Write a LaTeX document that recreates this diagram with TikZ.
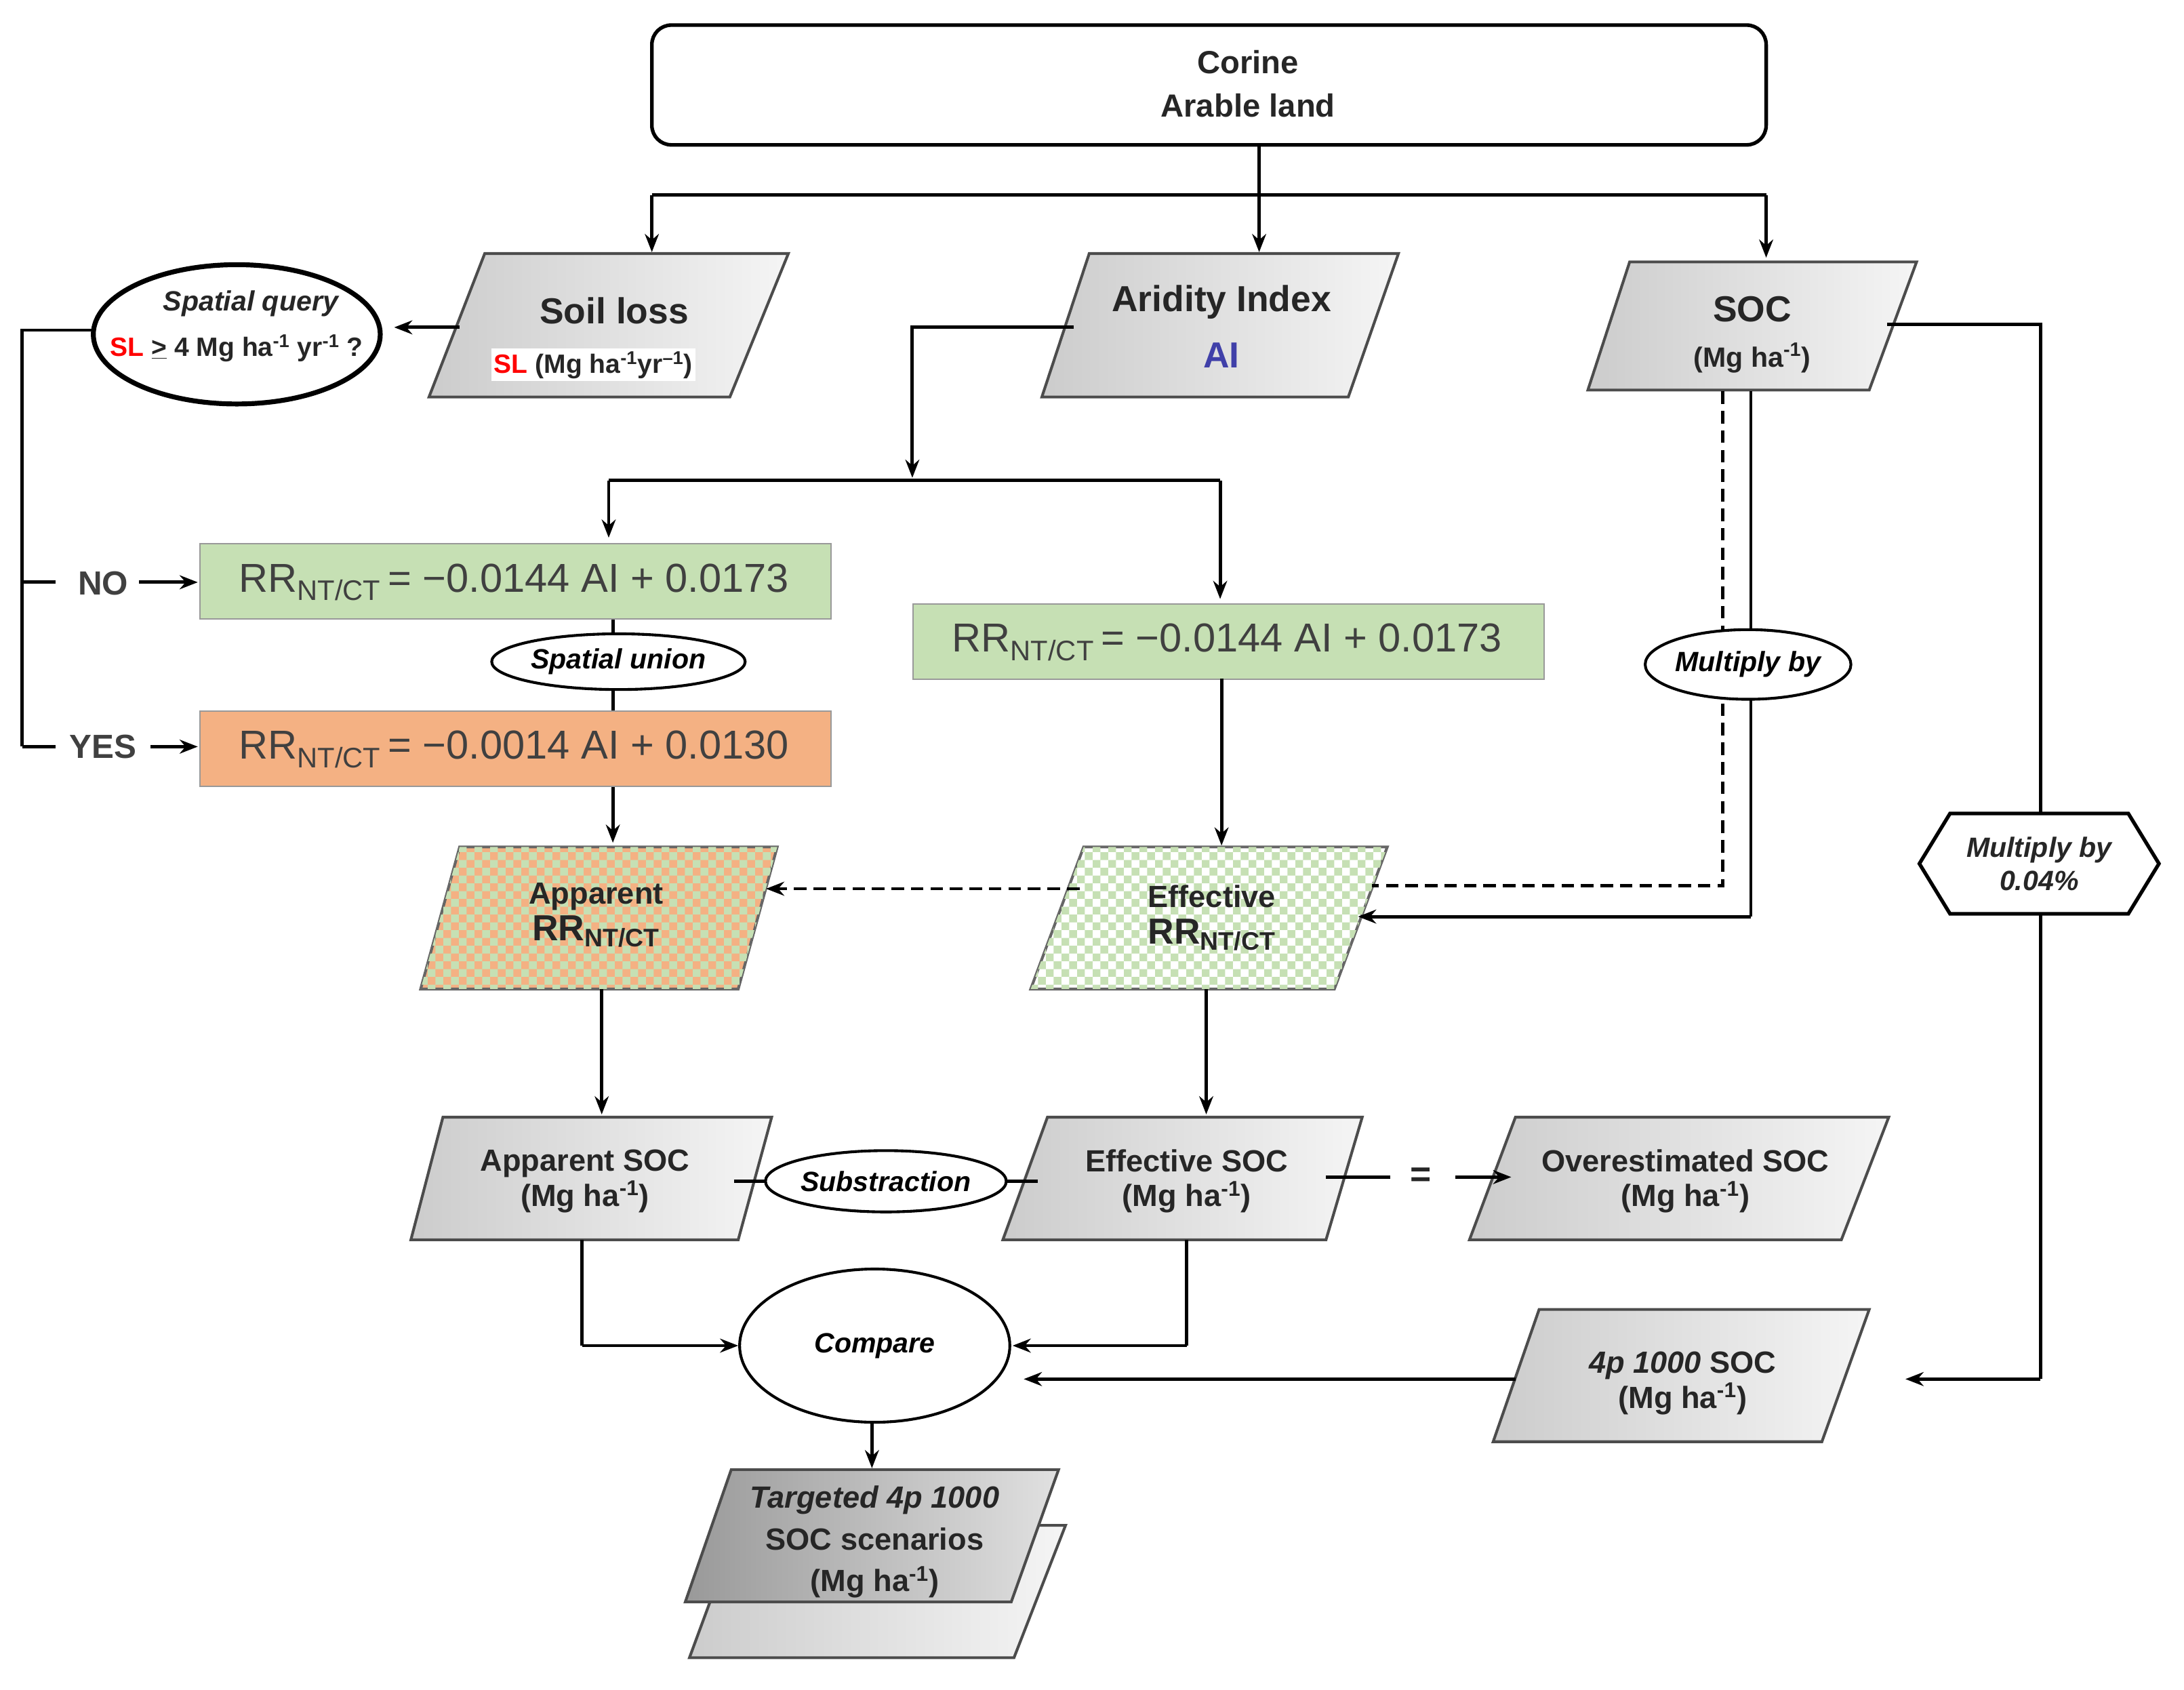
\documentclass[tikz,border=0pt]{standalone}
\usepackage{fontspec}
\setmainfont{Liberation Sans}
\usetikzlibrary{patterns,shapes.geometric,arrows.meta}
\definecolor{eqg}{HTML}{C6E0B4}
\definecolor{eqo}{HTML}{F4B183}
\definecolor{tx}{HTML}{262626}
\definecolor{eqt}{HTML}{404040}
\tikzset{
 ar/.style={-{Stealth[length=13pt,width=10pt]},line width=2.4pt},
 ln/.style={line width=2.4pt},
 dsh/.style={dash pattern=on 9pt off 5pt},
 para/.style={draw=black!70,line width=2pt,left color=black!20,right color=black!4},
 lbl/.style={font=\bfseries\fontsize{22}{25}\selectfont,text=tx,align=center},
 eq/.style={draw=black!40,line width=1pt,minimum height=54pt,anchor=north west},
 ell/.style={draw,ellipse,line width=2pt,fill=white,font=\bfseries\itshape\fontsize{20}{23}\selectfont,align=center,inner sep=0pt}
}
\newcommand{\mgha}{(Mg ha\textsuperscript{-1})}
\begin{document}
\begin{tikzpicture}[x=1pt,y=-1pt]
\useasboundingbox (0,0) rectangle (1568,1213);
% Corine
\node[draw,rounded corners=14pt,line width=2.6pt,minimum width=800pt,minimum height=86pt] (cor) at (868,61) {};
\node[font=\bfseries\fontsize{23}{31}\selectfont,align=center,text=tx] (cort) at (896,60) {Corine\\Arable land};
\draw[ln] (904,104) -- (904,140);
\draw[ln] (468,140) -- (1268,140);
\draw[ar] (904,104) -- (904,181);
\draw[ar] (468,140) -- (468,181);
\draw[ar] (1268,140) -- (1268,185);
% Soil loss
\draw[para] (348,182) -- (566,182) -- (524,285) -- (308,285) -- cycle;
\node[font=\bfseries\fontsize{26}{28}\selectfont,text=tx] (sl) at (441,223) {Soil loss};
\node[fill=white,inner sep=2pt,font=\bfseries\fontsize{19}{21}\selectfont,text=tx] (slu) at (426,262) {\textcolor{red}{SL} (Mg ha\textsuperscript{-1}yr\textsuperscript{--1})};
% Aridity
\draw[para] (782,182) -- (1004,182) -- (968,285) -- (748,285) -- cycle;
\node[font=\bfseries\fontsize{26}{28}\selectfont,text=tx] (ai) at (877,217) {Aridity Index};
\node[font=\bfseries\fontsize{26}{28}\selectfont,text=blue!55!black!75] (ai2) at (877,255) {AI};
% SOC
\draw[para] (1170,188) -- (1376,188) -- (1342,280) -- (1140,280) -- cycle;
\node[font=\bfseries\fontsize{26}{28}\selectfont,text=tx] (soc) at (1258,222) {SOC};
\node[font=\bfseries\fontsize{20}{22}\selectfont,text=tx] (soc2) at (1258,257) {\mgha};
% spatial query
\node[draw,ellipse,line width=3.5pt,minimum width=206pt,minimum height=100pt,inner sep=0pt,fill=white] (sq) at (170,240) {};
\node[font=\bfseries\itshape\fontsize{20}{22}\selectfont,text=tx] (sqa) at (180,218) {Spatial query};
\node[font=\bfseries\fontsize{19}{22}\selectfont,text=tx] (sqb) at (170,250) {\textcolor{red}{SL} \underline{>} 4 Mg ha\textsuperscript{-1} yr\textsuperscript{-1} ?};
\draw[ar] (330,235) -- (283,235);
% left branch
\draw[ln] (67,237) -- (16,237) -- (16,536);
\draw[ln] (16,418) -- (40,418);
\draw[ln] (16,536) -- (40,536);
\node[font=\bfseries\fontsize{24}{26}\selectfont,text=eqt] (no) at (74,419) {NO};
\node[font=\bfseries\fontsize{24}{26}\selectfont,text=eqt] (yes) at (74,536) {YES};
\draw[ar] (100,418) -- (142,418);
\draw[ar] (108,536) -- (142,536);
% aridity to equations
\draw[ln] (771,235) -- (655,235) -- (655,330);
\draw[ar] (655,300) -- (655,343);
\draw[ln] (437,345) -- (876,345);
\draw[ar] (437,345) -- (437,386);
\draw[ar] (876,345) -- (876,430);
% eq boxes
\node[eq,fill=eqg,minimum width=453pt] (e1) at (143,390) {};
\node[font=\fontsize{29}{30}\selectfont,text=eqt] (e1t) at (369,418) {RR\textsubscript{NT/CT}\,= −0.0144 AI + 0.0173};
\node[eq,fill=eqg,minimum width=453pt] (e2) at (655,433) {};
\node[font=\fontsize{29}{30}\selectfont,text=eqt] (e2t) at (881,461) {RR\textsubscript{NT/CT}\,= −0.0144 AI + 0.0173};
\node[eq,fill=eqo,minimum width=453pt] (e3) at (143,510) {};
\node[font=\fontsize{29}{30}\selectfont,text=eqt] (e3t) at (369,538) {RR\textsubscript{NT/CT}\,= −0.0014 AI + 0.0130};
\draw[ln] (440,445) -- (440,510);
\node[ell,minimum width=182pt,minimum height=40pt] (su) at (444,475) {Spatial union};
% apparent RR
\draw[ar] (440,565) -- (440,605);
\draw[line width=2pt,draw=black!60,fill=eqo,postaction={pattern=checkerboard,pattern color=eqg}] (330,608) -- (558,608) -- (530,710) -- (302,710) -- cycle;
\node[font=\bfseries\fontsize{22}{24}\selectfont,text=tx,align=center] (arr) at (428,657) {Apparent\\[2pt]{\fontsize{26}{28}\selectfont RR\textsubscript{NT/CT}}};
% effective RR
\draw[ar] (877,487) -- (877,607);
\draw[line width=2pt,draw=black!60,fill=white,postaction={pattern=checkerboard,pattern color=eqg}] (778,608) -- (996,608) -- (958,710) -- (740,710) -- cycle;
\node[font=\bfseries\fontsize{22}{24}\selectfont,text=tx,align=center] (err) at (870,659) {Effective\\[2pt]{\fontsize{26}{28}\selectfont RR\textsubscript{NT/CT}}};
\draw[ar,dsh] (775,638) -- (550,638);
% SOC to effective
\draw[ln,dsh] (1237,281) -- (1237,636) -- (985,636);
\draw[ln] (1257,281) -- (1257,658);
\draw[ar] (1257,658) -- (975,658);
\node[ell,minimum width=134pt,minimum height=50pt] (mb) at (1255,477) {Multiply by};
% 0.04 path
\draw[ln] (1355,233) -- (1465,233) -- (1465,990);
\draw[ar] (1465,990) -- (1368,990);
\draw[line width=2.6pt,fill=white] (1378,620) -- (1400,584) -- (1528,584) -- (1550,620) -- (1528,656) -- (1400,656) -- cycle;
\node[font=\bfseries\itshape\fontsize{20}{24}\selectfont,text=tx,align=center] (mb2) at (1464,620) {Multiply by\\0.04\%};
% RR to SOC
\draw[ar] (432,710) -- (432,800);
\draw[ar] (866,710) -- (866,800);
\draw[para] (318,802) -- (554,802) -- (530,890) -- (295,890) -- cycle;
\node[lbl] (as) at (420,848) {Apparent SOC\\\mgha};
\draw[para] (752,802) -- (978,802) -- (952,890) -- (720,890) -- cycle;
\node[lbl] (es) at (852,848) {Effective SOC\\\mgha};
\draw[para] (1088,802) -- (1356,802) -- (1322,890) -- (1055,890) -- cycle;
\node[lbl] (os) at (1210,848) {Overestimated SOC\\\mgha};
\draw[ln] (527,848) -- (745,848);
\node[ell,minimum width=146pt,minimum height=44pt] (sub) at (636,848) {Substraction};
\draw[ln] (952,845) -- (998,845);
\node[font=\bfseries\fontsize{26}{26}\selectfont,text=tx] (eqs) at (1020,845) {=};
\draw[ar] (1045,845) -- (1085,845);
% compare
\node[ell,minimum width=194pt,minimum height=110pt] (cmp) at (628,966) {Compare};
\draw[ln] (418,890) -- (418,966);
\draw[ar] (418,966) -- (530,966);
\draw[ln] (852,890) -- (852,966);
\draw[ar] (852,966) -- (727,966);
% 4p1000
\draw[para] (1105,940) -- (1342,940) -- (1308,1035) -- (1072,1035) -- cycle;
\node[font=\bfseries\fontsize{22}{25}\selectfont,text=tx,align=center] (fp) at (1208,993) {\textit{4p 1000} SOC\\\mgha};
\draw[ar] (1088,990) -- (735,990);
% targeted
\draw[ar] (626,1022) -- (626,1054);
\draw[para] (530,1095) -- (765,1095) -- (728,1190) -- (495,1190) -- cycle;
\draw[draw=black!70,line width=2pt,left color=black!40,right color=black!12] (525,1055) -- (760,1055) -- (726,1150) -- (492,1150) -- cycle;
\node[font=\bfseries\fontsize{22}{30}\selectfont,text=tx,align=center] (tg) at (628,1107) {\textit{Targeted 4p 1000}\\SOC scenarios\\\mgha};
\end{tikzpicture}
\end{document}
